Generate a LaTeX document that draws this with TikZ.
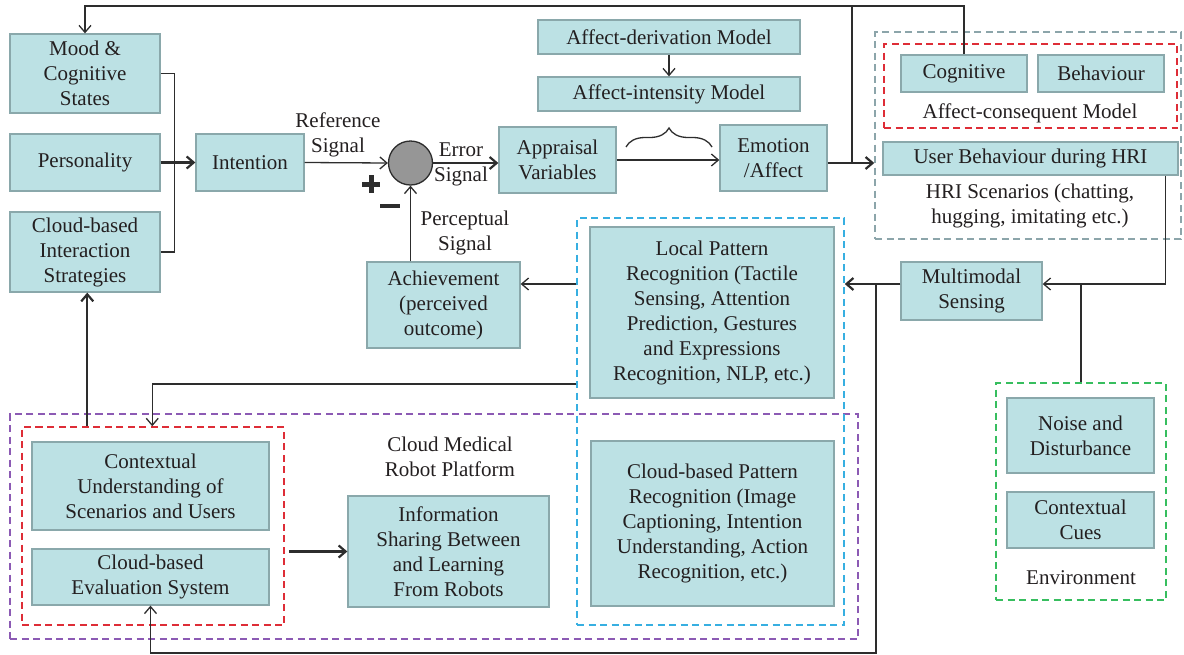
\documentclass[tikz,border=0pt]{standalone}
\usepackage{fontspec}
\setmainfont{Liberation Serif}
\usetikzlibrary{arrows.meta,decorations.pathreplacing,calc,fit}

\definecolor{boxfill}{RGB}{188,225,228}
\definecolor{boxedge}{RGB}{138,168,171}
\definecolor{wire}{RGB}{45,45,45}
\definecolor{ink}{RGB}{35,31,32}
\definecolor{hrigray}{RGB}{140,165,170}
\definecolor{accred}{RGB}{222,45,55}
\definecolor{recblue}{RGB}{55,175,225}
\definecolor{cloudpurple}{RGB}{140,90,180}
\definecolor{envgreen}{RGB}{55,190,95}
\definecolor{sumgray}{RGB}{150,150,150}

\newcommand\blk[6]{\node[box,minimum width=#4pt,minimum height=#5pt] (#1) at (#2,#3) {#6};}

\begin{document}
\begin{tikzpicture}[x=1pt,y=-1pt,
  font=\fontsize{21}{25}\selectfont,
  every node/.style={text=ink},
  box/.style={draw=boxedge, line width=1.3pt, fill=boxfill, align=center, inner sep=0pt},
  frame/.style={line width=1.5pt, dash pattern=on 7pt off 4.5pt, inner sep=0pt},
  conn/.style={draw=wire, line width=1.3pt},
  arr/.style={conn, -{Straight Barb[length=7pt,width=12pt]}},
  heavy/.style={line width=2.2pt},
  lbl/.style={align=center, inner sep=0pt}]
\useasboundingbox (0,0) rectangle (1184,654);

% dashed groupings
\node[frame, draw=hrigray, fit={(875,32)(1181,239)}] (hri) {};
\node[frame, draw=accred, fit={(884,44)(1177,128)}] (acm) {};
\node[frame, draw=envgreen, fit={(996,383)(1166,600)}] (env) {};
\node[frame, draw=cloudpurple, fit={(10,414)(858,639)}] (cloud) {};
\node[frame, draw=recblue, fit={(577,218)(844,625)}] (blue) {};
\node[frame, draw=accred, fit={(22,427)(284,625)}] (red2) {};

% blocks
\blk{mood}{85}{73.5}{150}{79}{Mood \&\\Cognitive\\States}
\blk{pers}{85}{162.5}{150}{57}{Personality}
\blk{cloudint}{85}{252}{150}{80}{Cloud-based\\Interaction\\Strategies}
\blk{intent}{250}{162.5}{108}{57}{Intention}
\node[circle, draw=wire, line width=1.3pt, fill=sumgray, minimum size=44pt, inner sep=0pt] (circ) at (410.5,163) {};
\blk{apprais}{557.5}{160}{117}{66}{Appraisal\\Variables}
\blk{deriv}{669}{37}{262}{34}{Affect-derivation Model}
\blk{inten}{669}{94}{262}{34}{Affect-intensity Model}
\blk{emotion}{773.5}{158}{107}{66}{Emotion\\/Affect}
\blk{cogn}{964}{73.5}{126}{37}{Cognitive}
\blk{behav}{1101}{73.5}{126}{37}{Behaviour}
\blk{userb}{1030.5}{158.5}{295}{33}{User Behaviour during HRI}
\blk{multi}{971.5}{291}{141}{58}{Multimodal\\Sensing}
\blk{noise}{1080.5}{435.5}{147}{75}{Noise and\\Disturbance}
\blk{cues}{1080.5}{520}{147}{56}{Contextual\\Cues}
\blk{local}{712}{312.5}{244}{171}{Local Pattern\\Recognition (Tactile\\Sensing, Attention\\Prediction, Gestures\\and Expressions\\Recognition, NLP, etc.)}
\blk{cloudpat}{712.5}{523.5}{243}{165}{Cloud-based Pattern\\Recognition (Image\\Captioning, Intention\\Understanding, Action\\Recognition, etc.)}
\blk{achieve}{443.5}{305}{153}{86}{Achievement\\(perceived\\outcome)}
\blk{context}{150.5}{486}{237}{88}{Contextual\\Understanding of\\Scenarios and Users}
\blk{evalsys}{150.5}{577}{237}{56}{Cloud-based\\Evaluation System}
\blk{info}{448.5}{551.5}{201}{111}{Information\\Sharing Between\\and Learning\\From Robots}

% free labels
\node[lbl] (refsig) at (338,135) {Reference\\Signal};
\node[lbl] (errsig) at (461,164) {Error\\Signal};
\node[lbl] (percsig) at (465,233) {Perceptual\\Signal};
\node[lbl] (acmlbl) at (1030,113) {Affect-consequent Model};
\node[lbl] (hrilbl) at (1030,206) {HRI Scenarios (chatting,\\hugging, imitating etc.)};
\node[lbl] (envlbl) at (1081,578) {Environment};
\node[lbl] (cloudlbl) at (450,457) {Cloud Medical\\Robot Platform};

% summing-junction signs
\draw[wire, line width=5pt] (362,184) -- (380,184) (371,175) -- (371,193);
\draw[wire, line width=4pt] (380,206) -- (400,206);

% helper points
\coordinate (ceil) at (0,6);
\coordinate (fb) at (852,6);
\coordinate (eo) at ($(emotion.east)+(0,5)$);
\coordinate (mE) at ($(multi.east)+(0,-7)$);
\coordinate (mW) at ($(multi.west)+(0,-7)$);
\coordinate (jn) at (876,284);
\coordinate (floor) at (0,653);
\coordinate (rowB) at (0,384);
\coordinate (rn) at ($(red2.north west)+(66,0)$);
\coordinate (rn2) at ($(red2.north west)+(131,0)$);

% connectors
\draw[conn] (mood.east) -| ($(cloudint.east)+(14,0)$) -- (cloudint.east);
\draw[arr, heavy] (pers.east) -- (intent.west);
\draw[arr] (intent.east) -- (circ.west);
\draw[arr, heavy] (circ.east) -- (apprais.west |- circ.east);
\draw[arr] (apprais.east) -- (emotion.west |- apprais.east);
\draw[arr] (deriv.south) -- (inten.north);
\draw[conn, decorate, decoration={brace, amplitude=19pt}] (626,147) -- (712,147);
\draw[arr, heavy] (eo) -- (hri.west |- eo);
\draw[conn] (fb) -- (fb |- eo);
\draw[arr] (cogn.north) |- (mood.north |- ceil) -- (mood.north);
\draw[arr] ([xshift=-13pt]userb.south east) |- (mE);
\draw[arr, heavy] (mW) -- (blue.east |- mW);
\draw[conn] (env.north |- mE) -- (env.north);
\draw[arr] (jn) -- (jn |- floor) -| (evalsys.south);
\draw[arr] (blue.west |- mW) -- (achieve.east |- mW);
\draw[arr] (achieve.north -| circ.south) -- (circ.south);
\draw[arr] (blue.west |- rowB) -| (rn2);
\draw[arr, heavy] (rn) -- (rn |- cloudint.south);
\draw[arr, heavy] ([xshift=4pt]red2.east |- info.west) -- (info.west);
\end{tikzpicture}
\end{document}
